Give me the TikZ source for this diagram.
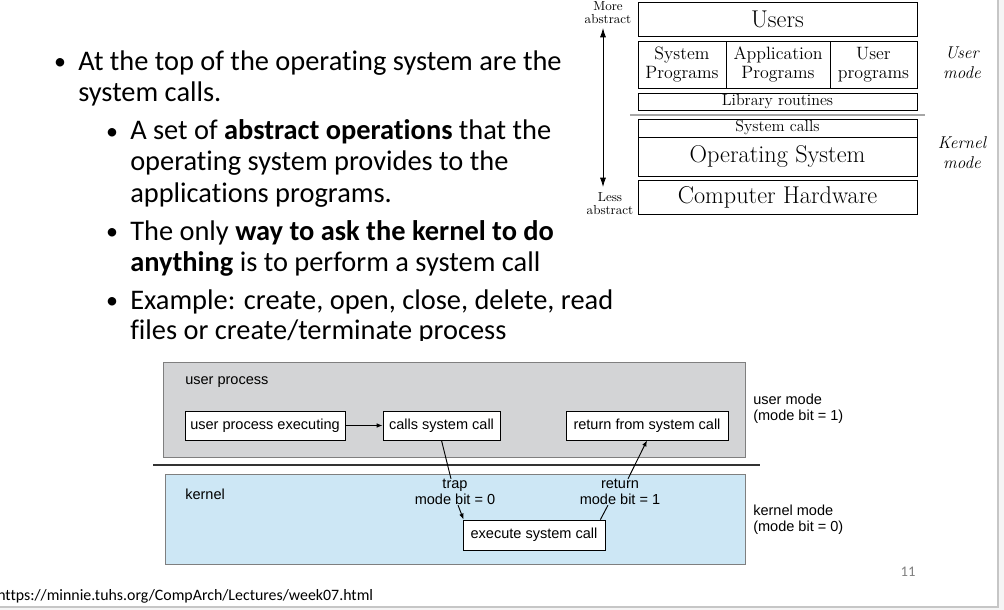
\documentclass[tikz,border=0pt]{standalone}
\usepackage{fontspec}
\setmainfont{Carlito}[Ligatures=NoCommon]
\newfontfamily\figserif{Latin Modern Roman}
\newfontfamily\helv{Liberation Sans}
\usetikzlibrary{arrows.meta,calc}
\newcommand\px[1]{#1*0.75pt}
\newcommand\fsz[2]{\fontsize{#1}{#2}\selectfont}
\definecolor{upgray}{HTML}{D3D4D6}
\definecolor{kblue}{HTML}{CDE7F5}
\definecolor{boxedge}{HTML}{7F7F7F}
\tikzset{
  layer/.style={draw, line width=0.7pt, inner sep=0pt, align=center, font=\figserif},
  bodytext/.style={anchor=base west, inner sep=0pt, font=\fsz{21.3}{25}},
  bul/.style={anchor=base, inner sep=0pt, font=\fsz{18}{22}},
  fbox/.style={draw, fill=white, line width=0.6pt, inner sep=0pt, minimum height=\px{29}, font=\helv\fsz{10.9}{12.5}},
  flabel/.style={inner sep=0pt, align=center, font=\helv\fsz{10.9}{12.2}},
  arr/.style={-{Latex[length=4.5pt,width=3.5pt]}, line width=0.7pt},
}
\begin{document}
\begin{tikzpicture}[x=0.75pt,y=-0.75pt]
\useasboundingbox (0,0) rectangle (1004,610);
\fill[white] (0,0) rectangle (1004,610);
% slide border
\fill[gray!8] (998,0) rectangle (1004,610);
\fill[gray!8] (0,607) rectangle (1004,610);
\draw[gray!45, line width=1.5pt] (998,0) -- (998,607) -- (0,607);

% bullet text
\node[bul] (b1) at (60,70) {•};
\node[bodytext] (t1) at (78,71) {At the top of the operating system are the};
\node[bodytext] (t2) at (78,102) {system calls.};
\node[bul] (b2) at (112,139) {•};
\node[bodytext] (t3) at (130,140) {A set of \textbf{abstract operations} that the};
\node[bodytext] (t4) at (130,171) {operating system provides to the};
\node[bodytext] (t5) at (130,202) {applications programs.};
\node[bul] (b3) at (112,239) {•};
\node[bodytext] (t6) at (130,240) {The only \textbf{way to ask the kernel to do}};
\node[bodytext] (t7) at (130,271) {\textbf{anything} is to perform a system call};
\node[bul] (b4) at (112,308) {•};
\node[bodytext] (t8) at (130,309) {Example: create, open, close, delete, read};
\node[bodytext] (t9) at (130,339) {files or create/terminate process};

% top-right layered figure
\node[layer, minimum width=\px{279}, minimum height=\px{34}, font=\figserif\fsz{18.2}{20}] (users) at (777.5,19) {Users};
\node[layer, minimum width=\px{88}, minimum height=\px{47}, font=\figserif\fsz{13.4}{14}] (sysprog) at (682,64.5) {System\\Programs};
\node[layer, minimum width=\px{104}, minimum height=\px{47}, font=\figserif\fsz{13.4}{14}] (appprog) at (778,64.5) {Application\\Programs};
\node[layer, minimum width=\px{87}, minimum height=\px{47}, font=\figserif\fsz{13.4}{14}] (userprog) at (873.5,64.5) {User\\programs};
\node[layer, minimum width=\px{279}, minimum height=\px{17}, font=\figserif\fsz{12}{13}] (lib) at (777.5,101.5) {Library routines};
\node[layer, minimum width=\px{279}, minimum height=\px{18}, font=\figserif\fsz{12}{13}] (syscalls) at (777.5,128) {System calls};
\node[layer, minimum width=\px{279}, minimum height=\px{39}, font=\figserif\fsz{18.2}{20}] (os) at (777.5,156.5) {Operating System};
\node[layer, minimum width=\px{279}, minimum height=\px{34}, font=\figserif\fsz{18.2}{20}] (hw) at (777.5,197) {Computer Hardware};
\coordinate (sepL) at (630,115);
\coordinate (sepR) at (925,115);
\draw[gray!70, line width=0.8pt] (sepL) -- (sepR);
\node[inner sep=0pt, align=center, font=\figserif\fsz{9.8}{9.8}] (more) at (608,13) {More\\abstract};
\node[inner sep=0pt, align=center, font=\figserif\fsz{9.8}{9.8}] (less) at (610,204) {Less\\abstract};
\coordinate (atop) at (603,28);
\coordinate (abot) at (603,187);
\draw[{Latex[length=7pt,width=4.5pt]}-{Latex[length=7pt,width=4.5pt]}, line width=0.6pt] (atop) -- (abot);
\node[inner sep=0pt, align=center, font=\figserif\itshape\fsz{12.8}{15}] (umode) at (962,63) {User\\mode};
\node[inner sep=0pt, align=center, font=\figserif\itshape\fsz{12.8}{15}] (kmode) at (962,153) {Kernel\\mode};

% bottom figure
\fill[white] (140,341) rectangle (870,568);
\node[draw=boxedge, fill=upgray, line width=0.7pt, minimum width=\px{582}, minimum height=\px{95}, inner sep=0pt] (upbox) at (454,409.5) {};
\node[draw=boxedge, fill=kblue, line width=0.7pt, minimum width=\px{580}, minimum height=\px{90}, inner sep=0pt] (kbox) at (455,519) {};
\coordinate (lineL) at (153,465);
\coordinate (lineR) at (760,465);
\draw[black!80, line width=1.8pt] (lineL) -- (lineR);
\node[flabel, anchor=west] (uplabel) at (185,382) {user process};
\node[flabel, anchor=west] (klabel) at (185,494) {kernel};
\node[fbox, minimum width=\px{160}] (upe) at (265,425.5) {user process executing};
\node[fbox, minimum width=\px{117}] (csc) at (441.5,425.5) {calls system call};
\node[fbox, minimum width=\px{162}] (rfsc) at (647,425.5) {return from system call};
\node[fbox, minimum width=\px{142}, minimum height=\px{30}] (exec) at (534,535) {execute system call};
\node[flabel] (trap) at (455,492) {trap\\mode bit = 0};
\node[flabel] (ret) at (620,492) {return\\mode bit = 1};
\node[flabel, anchor=west, align=left] (umtxt) at (753,409) {user mode\\(mode bit = 1)};
\node[flabel, anchor=west, align=left] (kmtxt) at (753,520) {kernel mode\\(mode bit = 0)};
\draw[arr] (upe) -- (csc);
\draw[line width=0.7pt] (csc.south) -- ([xshift=\px{-4}]trap.north);
\draw[arr] ([xshift=\px{3}]trap.south) -- ([xshift=\px{1}]exec.north west);
\draw[line width=0.7pt] ([xshift=\px{-5}]exec.north east) -- ([xshift=\px{-12}]ret.south);
\draw[arr] ([xshift=\px{8}]ret.north) -- (rfsc.south);

% footer
\node[anchor=base west, inner sep=0pt, font=\fsz{11.9}{13}] (url) at (-3,600) {https://minnie.tuhs.org/CompArch/Lectures/week07.html};
\node[anchor=base, inner sep=0pt, text=gray, font=\fsz{11}{12}] (pnum) at (908,576) {11};
\end{tikzpicture}
\end{document}
